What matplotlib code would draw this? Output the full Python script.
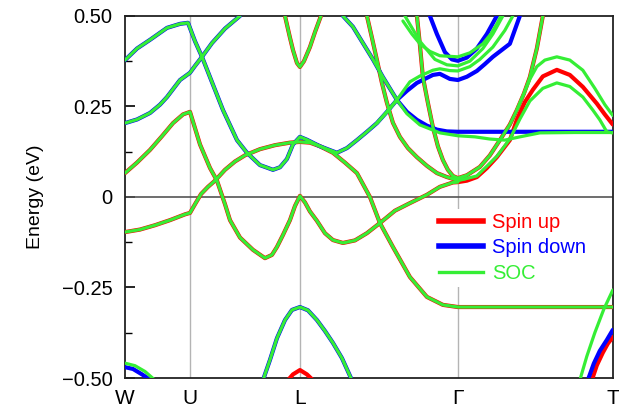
import numpy as np
import matplotlib.pyplot as plt
from matplotlib.lines import Line2D

plt.rcParams['font.family'] = ['Liberation Sans', 'DejaVu Sans']

# high-symmetry points along the k-path
kpath_pos = [0.0, 0.65, 1.75, 3.33, 4.88]
kpath_labels = ['W', 'U', 'L', 'Γ', 'T']

# ---- spin-up bands (k, E in eV) ----
up_low = [(0.0, -0.097), (0.15, -0.090), (0.30, -0.078), (0.45, -0.064), (0.60, -0.048),
          (0.65, -0.044), (0.70, -0.020), (0.76, 0.008), (0.83, 0.028), (0.90, 0.045),
          (1.0, 0.075), (1.1, 0.098), (1.2, 0.115), (1.35, 0.132), (1.5, 0.143),
          (1.65, 0.150), (1.75, 0.152), (1.85, 0.150), (1.95, 0.140), (2.08, 0.122),
          (2.2, 0.095), (2.32, 0.066), (2.45, 0.0), (2.55, -0.072), (2.68, -0.138),
          (2.85, -0.221), (3.02, -0.276), (3.18, -0.298), (3.33, -0.304), (3.6, -0.304),
          (4.2, -0.304), (4.88, -0.304)]
up_mid = [(0.0, 0.066), (0.12, 0.095), (0.25, 0.130), (0.37, 0.168), (0.48, 0.204),
          (0.58, 0.228), (0.65, 0.235), (0.70, 0.190), (0.75, 0.145), (0.85, 0.080),
          (0.92, 0.045), (1.0, -0.020), (1.05, -0.064), (1.15, -0.112), (1.28, -0.146),
          (1.40, -0.169), (1.47, -0.160), (1.52, -0.138), (1.58, -0.105), (1.65, -0.064),
          (1.70, -0.025), (1.75, 0.003), (1.80, -0.015), (1.85, -0.040), (1.92, -0.066),
          (2.0, -0.100), (2.08, -0.119), (2.18, -0.127), (2.30, -0.120), (2.42, -0.100),
          (2.55, -0.072), (2.70, -0.038), (2.85, -0.017), (3.02, 0.006), (3.15, 0.028),
          (3.28, 0.040), (3.33, 0.041), (3.42, 0.045), (3.52, 0.055), (3.62, 0.080),
          (3.72, 0.110), (3.85, 0.157), (3.92, 0.213), (4.0, 0.262), (4.08, 0.296),
          (4.18, 0.333), (4.32, 0.351), (4.45, 0.337), (4.58, 0.304), (4.72, 0.258),
          (4.80, 0.228), (4.88, 0.200)]
up_L_top = [(1.60, 0.50), (1.65, 0.44), (1.68, 0.406), (1.72, 0.370), (1.75, 0.359),
            (1.79, 0.375), (1.85, 0.414), (1.90, 0.455), (1.96, 0.50)]
up_G_steep = [(2.92, 0.50), (2.95, 0.42), (2.98, 0.331), (3.03, 0.260), (3.08, 0.193),
              (3.13, 0.140), (3.18, 0.102), (3.23, 0.075), (3.28, 0.058), (3.33, 0.052),
              (3.42, 0.060), (3.55, 0.083), (3.65, 0.115), (3.75, 0.157), (3.85, 0.200),
              (3.92, 0.240), (3.99, 0.285), (4.05, 0.331), (4.12, 0.410), (4.18, 0.50)]
up_G_wide = [(2.42, 0.50), (2.47, 0.440), (2.52, 0.378), (2.57, 0.315), (2.62, 0.260),
             (2.68, 0.205), (2.75, 0.166), (2.83, 0.135), (2.92, 0.110), (3.02, 0.086),
             (3.12, 0.066), (3.22, 0.055), (3.32, 0.047), (3.40, 0.050)]
up_L_bot = [(1.63, -0.506), (1.68, -0.490), (1.75, -0.478), (1.82, -0.490), (1.88, -0.506)]
up_T_bot = [(4.67, -0.506), (4.72, -0.465), (4.78, -0.430), (4.83, -0.405), (4.88, -0.387)]

# ---- spin-down bands ----
dn_top = [(0.0, 0.378), (0.12, 0.410), (0.25, 0.434), (0.42, 0.467), (0.55, 0.478),
          (0.63, 0.481), (0.70, 0.430), (0.77, 0.387), (0.85, 0.331), (0.98, 0.240),
          (1.12, 0.157), (1.22, 0.122), (1.35, 0.088), (1.48, 0.075), (1.55, 0.082),
          (1.62, 0.105), (1.68, 0.145), (1.75, 0.166), (1.82, 0.158), (1.95, 0.140),
          (2.12, 0.122), (2.22, 0.135), (2.32, 0.157), (2.42, 0.180), (2.52, 0.204),
          (2.62, 0.235), (2.72, 0.268), (2.82, 0.293), (2.92, 0.315), (3.08, 0.337),
          (3.15, 0.340), (3.25, 0.326), (3.33, 0.323), (3.42, 0.332), (3.52, 0.348),
          (3.60, 0.367), (3.68, 0.387), (3.85, 0.423), (3.95, 0.50)]
dn_second = [(0.0, 0.204), (0.12, 0.214), (0.25, 0.232), (0.35, 0.255), (0.42, 0.276),
             (0.50, 0.305), (0.55, 0.323), (0.65, 0.343), (0.70, 0.362), (0.77, 0.387),
             (0.87, 0.425), (1.0, 0.465), (1.15, 0.50)]
dn_flat = [(2.18, 0.50), (2.28, 0.470), (2.38, 0.425), (2.48, 0.380), (2.58, 0.331),
           (2.72, 0.268), (2.82, 0.235), (2.92, 0.213), (3.02, 0.197), (3.12, 0.186),
           (3.22, 0.181), (3.33, 0.180), (3.6, 0.180), (4.2, 0.180), (4.88, 0.180)]
dn_G_top = [(3.05, 0.50), (3.12, 0.450), (3.20, 0.400), (3.27, 0.380), (3.33, 0.376),
            (3.42, 0.385), (3.52, 0.410), (3.62, 0.450), (3.72, 0.50)]
dn_L_bot = [(1.38, -0.506), (1.45, -0.450), (1.52, -0.390), (1.60, -0.340), (1.67, -0.312),
            (1.75, -0.304), (1.83, -0.313), (1.92, -0.340), (2.0, -0.370), (2.08, -0.403),
            (2.17, -0.445), (2.27, -0.506)]
dn_W_bot = [(0.0, -0.470), (0.08, -0.475), (0.17, -0.490), (0.26, -0.506)]
dn_T_bot = [(4.63, -0.506), (4.69, -0.460), (4.75, -0.425), (4.82, -0.395), (4.88, -0.367)]

# ---- SOC bands (where they split from the spin-polarised ones) ----
soc_G_a = [(2.78, 0.486), (2.87, 0.450), (2.95, 0.423), (3.05, 0.402), (3.15, 0.390),
           (3.33, 0.387), (3.45, 0.398), (3.58, 0.423), (3.66, 0.450), (3.72, 0.478),
           (3.76, 0.50)]
soc_G_b = [(2.80, 0.50), (2.95, 0.430), (3.10, 0.380), (3.22, 0.365), (3.33, 0.362),
           (3.45, 0.375), (3.58, 0.410), (3.68, 0.450), (3.78, 0.50)]
soc_G_c = [(2.52, 0.204), (2.62, 0.235), (2.72, 0.268), (2.85, 0.318), (2.95, 0.334),
           (3.08, 0.350), (3.15, 0.354), (3.25, 0.349), (3.33, 0.348), (3.45, 0.360),
           (3.55, 0.380), (3.68, 0.414), (3.80, 0.460), (3.88, 0.50)]
soc_flat = [(2.18, 0.50), (2.28, 0.470), (2.38, 0.425), (2.48, 0.380), (2.58, 0.331),
            (2.72, 0.268), (2.82, 0.230), (2.95, 0.199), (3.15, 0.177), (3.33, 0.169),
            (3.50, 0.166), (3.65, 0.160), (3.80, 0.157), (3.95, 0.166), (4.15, 0.177),
            (4.5, 0.178), (4.88, 0.178)]
soc_hump_up = [(3.92, 0.240), (3.99, 0.285), (4.05, 0.325), (4.12, 0.360), (4.20, 0.378),
               (4.32, 0.387), (4.45, 0.378), (4.58, 0.350), (4.70, 0.300), (4.80, 0.255),
               (4.88, 0.225)]
soc_hump_low = [(3.33, 0.045), (3.52, 0.058), (3.72, 0.112), (3.85, 0.160), (3.95, 0.215),
                (4.05, 0.265), (4.18, 0.300), (4.32, 0.315), (4.45, 0.305), (4.58, 0.276),
                (4.68, 0.240), (4.75, 0.213), (4.82, 0.180), (4.88, 0.177)]
soc_W_bot = [(0.0, -0.459), (0.10, -0.466), (0.20, -0.482), (0.30, -0.506)]
soc_T_bot = [(4.55, -0.506), (4.62, -0.440), (4.70, -0.375), (4.79, -0.310), (4.88, -0.257)]

spin_up = [up_low, up_mid, up_L_top, up_G_steep, up_G_wide, up_L_bot, up_T_bot]
spin_down = [dn_top, dn_second, dn_flat, dn_G_top, dn_L_bot, dn_W_bot, dn_T_bot]
soc = [up_low, [p for p in up_mid if p[0] <= 3.33], up_L_top, up_G_steep, up_G_wide,
       [p for p in dn_top if p[0] <= 2.72], dn_second, dn_L_bot,
       soc_G_a, soc_G_b, soc_G_c, soc_flat, soc_hump_up, soc_hump_low, soc_W_bot, soc_T_bot]

RED, BLUE, GREEN = '#ff0000', '#0000ff', '#35ee35'
line_kw = dict(solid_capstyle='round', solid_joinstyle='round')

fig = plt.figure(figsize=(6.19, 4.08), dpi=100)
ax = fig.add_axes([0.202, 0.0735, 0.788, 0.8875])

for b in spin_up:
    k, e = np.array(b).T
    ax.plot(k, e, color=RED, lw=3.0, zorder=3, **line_kw)
for b in spin_down:
    k, e = np.array(b).T
    ax.plot(k, e, color=BLUE, lw=3.0, zorder=3, **line_kw)
for b in soc:
    k, e = np.array(b).T
    ax.plot(k, e, color=GREEN, lw=2.3, zorder=4, **line_kw)

for x in kpath_pos[1:-1]:
    ax.axvline(x, color='#b4b4b4', lw=1.0, zorder=1)
ax.axhline(0, color='#555555', lw=1.2, zorder=2)

ax.set_xlim(kpath_pos[0], kpath_pos[-1])
ax.set_ylim(-0.5, 0.5)
ax.set_xticks(kpath_pos)
ax.set_xticklabels(kpath_labels)
ax.set_yticks([-0.5, -0.25, 0, 0.25, 0.5])
ax.set_yticklabels(['\u22120.50', '\u22120.25', '0', '0.25', '0.50'])
ax.set_yticks([-0.375, -0.125, 0.125, 0.375], minor=True)
ax.tick_params(axis='y', direction='in', length=7, width=1.2, labelsize=14.5, pad=9)
ax.tick_params(axis='y', which='minor', direction='in', length=5, width=1.0)
ax.tick_params(axis='x', length=0, labelsize=15, pad=8)
ax.set_ylabel('Energy (eV)', fontsize=14, labelpad=13)
for s in ax.spines.values():
    s.set_linewidth(1.3)
    s.set_color('#222222')

handles = [Line2D([], [], color=RED, lw=4.0),
           Line2D([], [], color=BLUE, lw=4.0),
           Line2D([], [], color=GREEN, lw=2.4)]
leg = ax.legend(handles, ['Spin up', 'Spin down', 'SOC'], loc='upper left',
                bbox_to_anchor=(0.615, 0.495), fontsize=14.5, labelcolor='linecolor',
                handlelength=2.2, handletextpad=0.45, labelspacing=0.32,
                frameon=True, facecolor='white', edgecolor='none', framealpha=1.0,
                borderpad=0.2, fancybox=False)
leg.set_zorder(6)

fig.savefig('out.png', dpi=100)
